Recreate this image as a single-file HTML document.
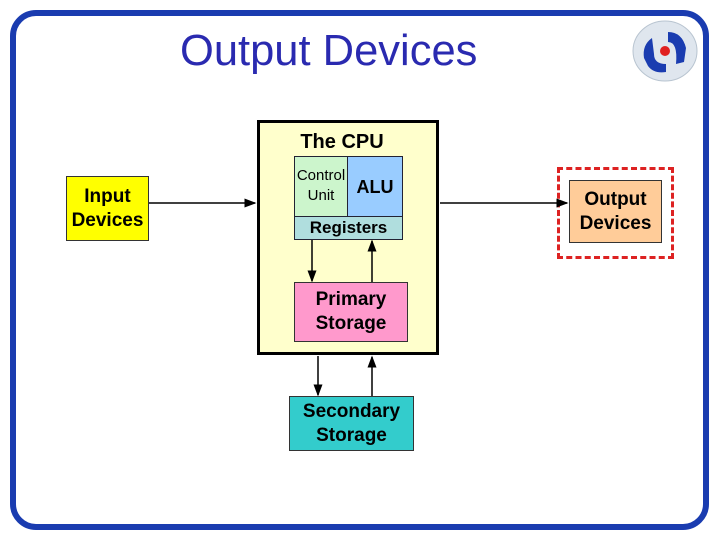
<!DOCTYPE html>
<html><head><style>
body{margin:0;width:720px;height:540px;background:#fff;position:relative;overflow:hidden;font-family:"Liberation Sans",sans-serif}
.a{position:absolute;box-sizing:border-box}
.t{display:flex;align-items:center;justify-content:center;text-align:center;font-weight:bold;font-size:19px;line-height:24px;color:#000}
</style></head><body>
<div class="a" style="left:10px;top:10px;width:699px;height:520px;border:6px solid #1a3cb0;border-radius:26px"></div>
<div class="a" style="left:180px;top:27px;font-size:43.5px;color:#2a2ab0">Output Devices</div>
<svg class="a" style="left:632px;top:20px" width="66" height="62" viewBox="0 0 66 62">
<ellipse cx="33" cy="31" rx="32" ry="30" fill="#dfe6ee" stroke="#b8c4d0"/>
<path d="M20 18 Q10 25 12 38 L16 46 Q22 54 34 52 L34 44 Q22 44 22 34 Z" fill="#1a3cb0"/>
<path d="M36 12 Q50 12 54 28 L52 42 L44 44 Q46 22 36 22 Z" fill="#1a3cb0"/>
<circle cx="33" cy="31" r="5" fill="#e02020"/>
</svg>
<div class="a" style="left:257px;top:120px;width:182px;height:235px;background:#ffffcc;border:3px solid #000"></div>
<div class="a t" style="left:257px;top:130px;width:170px;height:24px;font-size:20px">The CPU</div>
<div class="a" style="left:294px;top:156px;width:109px;height:84px;border:1px solid #223"></div>
<div class="a" style="left:295px;top:157px;width:53px;height:59px;background:#ccf5cc;border-right:1px solid #223;font-size:15px;line-height:20px;text-align:center;padding-top:9px">Control<br>Unit</div>
<div class="a t" style="left:348px;top:157px;width:54px;height:59px;background:#99ccff;font-size:18px">ALU</div>
<div class="a t" style="left:295px;top:216px;width:107px;height:23px;background:#b0dede;border-top:1px solid #223;font-size:17px">Registers</div>
<div class="a t" style="left:294px;top:282px;width:114px;height:60px;background:#ff99cc;border:1px solid #333">Primary<br>Storage</div>
<div class="a t" style="left:289px;top:396px;width:125px;height:55px;background:#33cccc;border:1px solid #333">Secondary<br>Storage</div>
<div class="a t" style="left:66px;top:176px;width:83px;height:65px;background:#ffff00;border:1px solid #333">Input<br>Devices</div>
<div class="a t" style="left:557px;top:167px;width:117px;height:92px;border:3px dashed #dd2222"></div>
<div class="a t" style="left:569px;top:180px;width:93px;height:63px;background:#ffcc99;border:1px solid #333">Output<br>Devices</div>
<svg class="a" style="left:0;top:0" width="720" height="540">
<defs><marker id="m" markerWidth="8" markerHeight="8" refX="7" refY="4" orient="auto"><path d="M0,1 L8,4 L0,7Z" fill="#000"/></marker></defs>
<g stroke="#000" stroke-width="1.5" fill="none">
<line x1="149" y1="203" x2="255" y2="203" marker-end="url(#m)"/>
<line x1="440" y1="203" x2="567" y2="203" marker-end="url(#m)"/>
<line x1="312" y1="240" x2="312" y2="281" marker-end="url(#m)"/>
<line x1="372" y1="282" x2="372" y2="241" marker-end="url(#m)"/>
<line x1="318" y1="356" x2="318" y2="395" marker-end="url(#m)"/>
<line x1="372" y1="396" x2="372" y2="357" marker-end="url(#m)"/>
</g></svg>
</body></html>
